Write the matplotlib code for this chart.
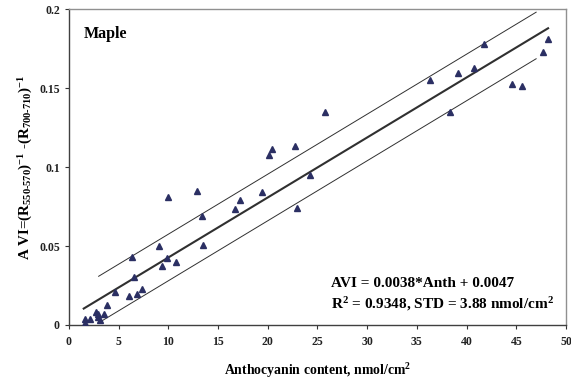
import matplotlib
matplotlib.use("Agg")
from matplotlib import pyplot as plt
import numpy as np

# anthocyanin content (nmol/cm2) and AVI per leaf
anth = [1.6, 1.6, 2.1, 2.7, 2.9, 2.9, 3.1, 3.5, 3.8, 4.6,
        6.1, 6.4, 6.6, 6.9, 7.4, 9.1, 9.4, 9.9, 10.0, 10.8,
        12.9, 13.4, 13.5, 16.7, 17.2, 19.4, 20.1, 20.4, 22.7, 22.9,
        24.3, 25.8, 36.3, 38.3, 39.1, 40.8, 41.8, 44.6, 45.6, 47.7,
        48.2]
avi = [0.0038, 0.0010, 0.0038, 0.0084, 0.0068, 0.0053, 0.0032, 0.0070, 0.0129, 0.0210,
       0.0184, 0.0428, 0.0306, 0.0196, 0.0230, 0.0502, 0.0371, 0.0426, 0.0810, 0.0397,
       0.0850, 0.0690, 0.0508, 0.0732, 0.0790, 0.0842, 0.1076, 0.1114, 0.1133, 0.0742,
       0.0949, 0.1346, 0.1550, 0.1346, 0.1595, 0.1625, 0.1776, 0.1523, 0.1513, 0.1728,
       0.1808]

slope = 0.0038
intercept = 0.0047
std_anth = 3.88

plt.rcParams['font.family'] = ['Liberation Serif']
plt.rcParams['font.weight'] = 'bold'
plt.rcParams['mathtext.fontset'] = 'custom'
plt.rcParams['mathtext.rm'] = 'Liberation Serif:bold'
plt.rcParams['mathtext.it'] = 'Liberation Serif:bold'
plt.rcParams['mathtext.bf'] = 'Liberation Serif:bold'

fig = plt.figure(figsize=(5.71, 3.79), dpi=100)
ax = fig.add_axes([0.1205, 0.1425, 0.8707, 0.8335])

# regression line and +/- one STD band
x_fit = np.array([1.5, 48.2])
ax.plot(x_fit, slope * x_fit + intercept, color='#303030', lw=1.5, zorder=2)
x_band = np.array([3.0, 47.0])
ax.plot(x_band, slope * x_band + intercept + slope * std_anth, color='#303030', lw=0.7, zorder=2)
ax.plot(x_band, slope * x_band + intercept - slope * std_anth, color='#303030', lw=0.7, zorder=2)

ax.plot(anth, avi, linestyle='none', marker='^', ms=4.2, color='#2b2f63', zorder=3)

ax.set_xlim(0, 50)
ax.set_ylim(0, 0.2)
ax.set_xticks(np.arange(0, 51, 5))
ax.set_yticks([0, 0.05, 0.1, 0.15, 0.2])
ax.set_yticklabels(['0', '0.05', '0.1', '0.15', '0.2'])
ax.tick_params(direction='out', length=3, width=0.8, labelsize=8.5, colors='#333333', labelcolor='#222222')
ax.tick_params(axis='x', pad=5)

for side in ['left', 'bottom']:
    ax.spines[side].set_color('#404040')
    ax.spines[side].set_linewidth(1.0)
for side in ['top', 'right']:
    ax.spines[side].set_color('#909090')
    ax.spines[side].set_linewidth(1.0)

ax.set_xlabel('Anthocyanin content, nmol/cm$^2$', fontsize=9.9, fontweight='bold', labelpad=9)
ax.set_ylabel('A VI=(R$_{550\u2010570}$)$^{-1}$ -(R$_{700\u2010710}$)$^{-1}$',
              fontsize=10.8, fontweight='bold', labelpad=3)

ax.text(1.45, 0.184, 'Maple', fontsize=11.5, fontweight='bold', va='center')
ax.text(26.4, 0.0265, 'AVI = 0.0038*Anth + 0.0047', fontsize=11, fontweight='bold', va='center')
ax.text(26.4, 0.0135, 'R$^2$ = 0.9348, STD = 3.88 nmol/cm$^2$', fontsize=11, fontweight='bold', va='center')

fig.savefig('out.png', dpi=100)
